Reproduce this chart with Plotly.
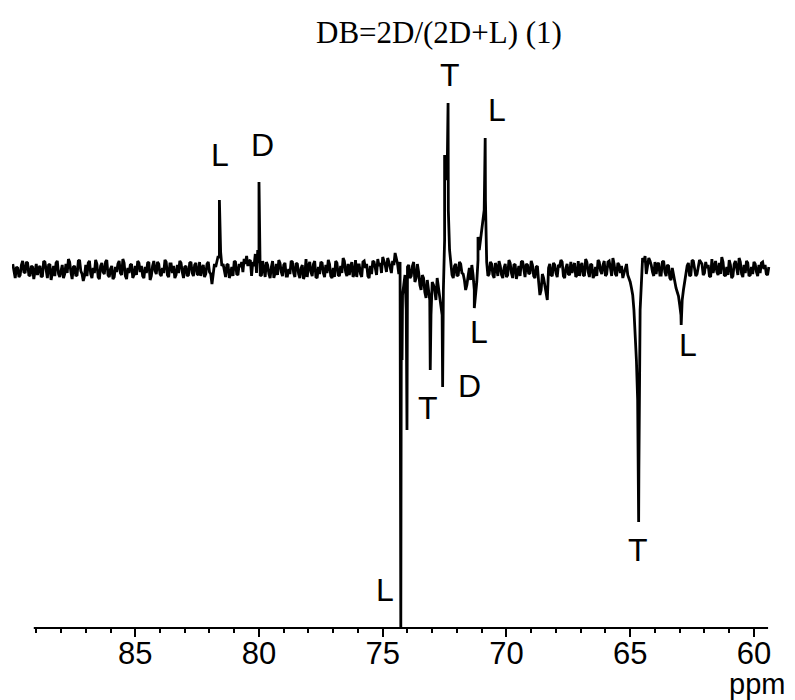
import numpy as np
import plotly.graph_objects as go

# ---- data ----
title_text = "DB=2D/(2D+L) (1)"
x_unit = "ppm"
tick_values = [85, 80, 75, 70, 65, 60]

# baseline trace on a 0.1 ppm grid: each row holds N.9, N.8, ..., N.0
baseline_rows = [
    [-4, 3, -7, 5, -2, 8, -5, 4, -9, 6],        # 89
    [2, -7, 9, -3, 5, -10, 4, 7, -4, 1],        # 88
    [-8, 6, 11, -2, 3, -6, 9, -1, -11, 5],      # 87
    [7, -4, 2, 10, -7, 4, -2, 8, -5, 1],        # 86
    [-9, 3, 6, -3, 11, -6, 2, 5, -8, 4],        # 85
    [9, -2, -6, 3, 7, -10, 4, -1, 8, -4],       # 84
    [2, 10, -5, 6, -3, -8, 5, 9, -2, 3],        # 83
    [-6, 7, -3, 5, -4, 8, 2, -7, 6, -2],        # 82
    [-14, 6, 10, 12, 4, -2, 5, -8, 3, 9],       # 81
    [-4, 6, 8, 11, 14, 9, -6, 4, -3, 7],        # 80
    [-5, 2, 8, -4, 3, -8, 6, 10, -2, 5],        # 79
    [-6, 1, 9, -3, 7, -4, 2, -9, 11, 4],        # 78
    [-2, 6, -7, 3, 8, -3, 5, 10, -6, 2],        # 77
    [9, -5, 4, 12, -2, 6, 3, -7, 10, 5],        # 76
    [-4, 8, 2, -6, 4, 9, 2, 11, 7, 13],         # 75
    [5, 12, 3, 9, 17, 6, 8, -25, -5, 3],        # 74
    [-8, 4, -12, 6, -15, -5, -22, -10, -30, -12],  # 73
    [-20, -8, -30, -45, 30, 90, 20, -5, 4, -6],    # 72
    [8, -3, -10, -15, 2, 5, -20, -12, 20, 38],     # 71
    [60, 8, -4, 6, -8, 3, 9, -5, 2, -7],        # 70
    [10, -3, 5, -9, 4, 8, -2, 6, -4, 9],        # 69
    [-6, 3, -12, -20, -8, -26, 2, -5, 7, -3],   # 68
    [5, 10, -6, 2, -4, 8, 3, -7, 9, 4],         # 67
    [-5, 11, -2, 6, -8, 3, 10, -1, 5, -6],      # 66
    [8, 2, 12, -4, 7, -3, -8, 4, -5, -12],      # 65
    [-25, -60, -130, -40, 12, 14, 6, 9, -2, 8], # 64
    [6, -5, 8, -2, 5, -8, 2, -14, -22, -35],    # 63
    [-30, -12, 4, -6, 10, 3, -4, 10, 6, -3],    # 62
    [2, -6, 11, 4, -2, 7, 13, -5, 3, 10],       # 61
    [-8, 6, 2, 12, -4, 5, 9, -6, 3, 8],         # 60
    [-2, 5, 7, 1, -4, 3],                       # 59.9 .. 59.4
]
# in-between samples: each row holds N.95, N.85, ..., N.05
baseline_mid_rows = [
    [6, -8, 2, -5, 9, -3, 7, -6, 3, -2],        # 89
    [-5, 4, -6, 8, -8, 6, -3, -6, 9, -7],       # 88
    [5, -4, -3, 8, -9, 4, -5, 10, -4, -6],      # 87
    [-6, 9, -8, -3, 6, -9, 7, -4, 10, -7],      # 86
    [4, -7, -2, 9, -5, 7, -9, -3, 6, -5],       # 85
    [-5, 7, 4, -8, -3, 8, -6, 9, -4, 6],        # 84
    [-6, -3, 8, -7, 6, 4, -5, -3, 7, -8],       # 83
    [4, -5, 8, -6, 7, -5, -6, 5, -4, 8],        # 82
    [-4, -6, 3, 14, 18, 6, -7, 6, -4, -6],      # 81
    [8, -5, 3, -2, 6, 4, 10, 8, 16, 20],        # 80
    [-6, 9, -7, 5, -8, 9, -3, -5, 7, -6],       # 79
    [7, -6, -4, 8, -7, 6, -8, 5, -5, -7],       # 78
    [8, -6, 9, -8, -4, 7, -7, -3, 6, -8],       # 77
    [-7, 7, -6, -3, 9, -6, -5, 8, -4, -7],      # 76
    [5, -7, 9, 6, -8, -4, 8, -5, 4, -3],        # 75
    [9, -2, 8, -3, 5, 12, -4, -60, -15, -40],   # 74
    [5, -6, 8, -8, -2, -20, -8, -28, -18, -45], # 73
    [-15, -30, -18, -40, -20, 100, 60, 5, -8, 6],  # 72
    [-5, 6, -4, -20, -6, -10, -5, -25, 10, 30],    # 71
    [45, 70, -6, 8, -5, 7, -6, 4, -8, 6],       # 70
    [-5, 7, -8, 6, -4, -6, 9, -7, 5, -3],       # 69
    [5, -8, 4, -25, -4, -15, -30, 6, -6, 5],    # 68
    [-7, 4, 8, -8, 6, -5, -3, 7, -5, -6],       # 67
    [7, -6, 8, -7, 5, -5, -6, 8, -4, 9],        # 66
    [-4, 9, -6, 6, -6, 5, 4, -3, 6, -8],        # 65
    [-18, -40, -90, -200, -5, 8, -4, 12, 5, -6],  # 64
    [-4, 7, -5, 9, -6, 4, -10, -6, -18, -26],   # 63
    [-45, -20, -8, 7, -5, 9, -6, 4, 8, -5],     # 62
    [8, 5, -7, -3, 9, -5, -4, 8, -6, -5],       # 61
    [5, -6, 9, -5, 8, -7, -3, 7, -5, -4],       # 60
    [6, -6, -3, 8, 5, -5],                      # 59.95 .. 59.45
]
first_integer_ppm = 89

# resonance lines: position (ppm) and apex intensity
peak_ppm = [81.60, 80.00, 74.27, 74.22, 74.02, 73.08, 72.58, 72.50, 72.36,
            71.30, 71.15, 70.86, 64.66, 62.94]
peak_int = [70, 88, -358, -90, -160, -100, -117, 115, 167,
            -38, 33, 132, -252, -55]

# peak labels
label_text = ["L", "D", "T", "L", "L", "D", "T", "L", "T", "L"]
label_ppm = [81.57, 79.87, 72.27, 70.37, 71.10, 71.51, 73.16, 74.90, 64.68, 62.66]
label_int = [115, 125, 195, 160, -62, -116, -138, -320, -280, -75]

# ---- build the spectrum ----
pts = []
for r, (row, mid) in enumerate(zip(baseline_rows, baseline_mid_rows)):
    n = first_integer_ppm - r
    for k, v in enumerate(row):
        pts.append((round(n + 0.9 - 0.1 * k, 3), v))
    for k, v in enumerate(mid):
        pts.append((round(n + 0.95 - 0.1 * k, 3), v))
pts += list(zip(peak_ppm, peak_int))
pts.sort(key=lambda p: -p[0])
xs = [p[0] for p in pts]
ys = [p[1] for p in pts]

fig = go.Figure()
fig.add_trace(go.Scatter(x=xs, y=ys, mode="lines",
                         line=dict(color="black", width=2.8), hoverinfo="skip",
                         showlegend=False))

for t, px, py in zip(label_text, label_ppm, label_int):
    fig.add_annotation(x=px, y=py, xref="x", yref="y", text=t, showarrow=False,
                       font=dict(family="Liberation Sans, Arial", size=32, color="black"),
                       xanchor="center", yanchor="middle")

fig.add_annotation(x=59.88, y=-0.0986, xref="x", yref="paper", text=x_unit, showarrow=False,
                   font=dict(family="Liberation Sans, Arial", size=29, color="black"),
                   xanchor="center", yanchor="middle")

fig.add_annotation(x=0.56, y=1.0, xref="paper", yref="paper", text=title_text,
                   showarrow=False, xanchor="center", yanchor="bottom", yshift=8,
                   font=dict(family="Liberation Serif, Times New Roman", size=31, color="black"))

# axis line (only spans the labelled scale)
fig.add_shape(type="line", xref="x", yref="paper", x0=89.1, x1=59.43, y0=0, y1=0,
              line=dict(color="black", width=2))

fig.update_layout(
    width=787, height=692,
    margin=dict(l=4, r=20, t=52, b=72),
    paper_bgcolor="white", plot_bgcolor="white",
    xaxis=dict(range=[89.98, 59.15], showgrid=False, zeroline=False, showline=False,
               tickmode="array", tickvals=tick_values,
               ticks="outside", ticklen=8, tickwidth=2, tickcolor="black",
               ticklabelstandoff=-10,
               tickfont=dict(family="Liberation Sans, Arial", size=31, color="black"),
               minor=dict(dtick=1, tick0=60, ticks="outside", ticklen=4, tickwidth=1.5,
                          tickcolor="black", showgrid=False)),
    yaxis=dict(range=[-358, 210], visible=False),
)

fig.write_html("out.html")
